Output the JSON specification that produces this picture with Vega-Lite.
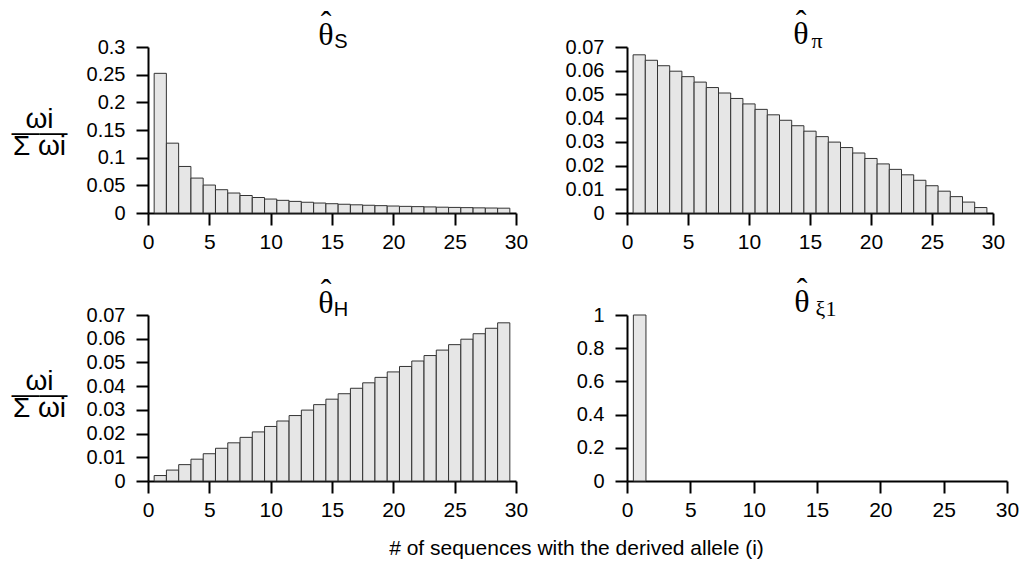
{
  "$schema": "https://vega.github.io/schema/vega-lite/v6.json",
  "background": "white",
  "padding": {"left": 11, "top": 6, "right": 5, "bottom": 5},
  "bounds": "flush",
  "columns": 2,
  "spacing": {"row": 102, "column": 111},
  "config": {
    "view": {"stroke": null},
    "axis": {"domainColor": "black", "domainWidth": 2, "tickColor": "black", "tickWidth": 2, "tickSize": 12, "labelFont": "Liberation Sans", "labelColor": "black", "labelFontSize": 20, "grid": false, "zindex": 1, "labelPadding": 11, "labelFlush": false, "labelOverlap": false},
    "axisX": {"labelFontSize": 21, "labelPadding": 6},
    "title": {"font": "Liberation Serif", "fontSize": 32, "fontWeight": "normal", "color": "black", "lineHeight": 12, "subtitleFont": "Liberation Sans", "subtitleFontSize": 20, "subtitleColor": "black", "subtitlePadding": -20, "anchor": "middle", "frame": "group", "offset": -16}
  },
  "datasets": {
    "S": [
      {"i": 1, "w": 0.2524}, {"i": 2, "w": 0.1262}, {"i": 3, "w": 0.0841}, {"i": 4, "w": 0.0631}, {"i": 5, "w": 0.0505},
      {"i": 6, "w": 0.0421}, {"i": 7, "w": 0.0361}, {"i": 8, "w": 0.0316}, {"i": 9, "w": 0.0280}, {"i": 10, "w": 0.0252},
      {"i": 11, "w": 0.0229}, {"i": 12, "w": 0.0210}, {"i": 13, "w": 0.0194}, {"i": 14, "w": 0.0180}, {"i": 15, "w": 0.0168},
      {"i": 16, "w": 0.0158}, {"i": 17, "w": 0.0148}, {"i": 18, "w": 0.0140}, {"i": 19, "w": 0.0133}, {"i": 20, "w": 0.0126},
      {"i": 21, "w": 0.0120}, {"i": 22, "w": 0.0115}, {"i": 23, "w": 0.0110}, {"i": 24, "w": 0.0105}, {"i": 25, "w": 0.0101},
      {"i": 26, "w": 0.0097}, {"i": 27, "w": 0.0093}, {"i": 28, "w": 0.0090}, {"i": 29, "w": 0.0087}
    ],
    "PI": [
      {"i": 1, "w": 0.0667}, {"i": 2, "w": 0.0644}, {"i": 3, "w": 0.0621}, {"i": 4, "w": 0.0598}, {"i": 5, "w": 0.0575},
      {"i": 6, "w": 0.0552}, {"i": 7, "w": 0.0529}, {"i": 8, "w": 0.0506}, {"i": 9, "w": 0.0483}, {"i": 10, "w": 0.0460},
      {"i": 11, "w": 0.0437}, {"i": 12, "w": 0.0414}, {"i": 13, "w": 0.0391}, {"i": 14, "w": 0.0368}, {"i": 15, "w": 0.0345},
      {"i": 16, "w": 0.0322}, {"i": 17, "w": 0.0299}, {"i": 18, "w": 0.0276}, {"i": 19, "w": 0.0253}, {"i": 20, "w": 0.0230},
      {"i": 21, "w": 0.0207}, {"i": 22, "w": 0.0184}, {"i": 23, "w": 0.0161}, {"i": 24, "w": 0.0138}, {"i": 25, "w": 0.0115},
      {"i": 26, "w": 0.0092}, {"i": 27, "w": 0.0069}, {"i": 28, "w": 0.0046}, {"i": 29, "w": 0.0023}
    ],
    "H": [
      {"i": 1, "w": 0.0023}, {"i": 2, "w": 0.0046}, {"i": 3, "w": 0.0069}, {"i": 4, "w": 0.0092}, {"i": 5, "w": 0.0115},
      {"i": 6, "w": 0.0138}, {"i": 7, "w": 0.0161}, {"i": 8, "w": 0.0184}, {"i": 9, "w": 0.0207}, {"i": 10, "w": 0.0230},
      {"i": 11, "w": 0.0253}, {"i": 12, "w": 0.0276}, {"i": 13, "w": 0.0299}, {"i": 14, "w": 0.0322}, {"i": 15, "w": 0.0345},
      {"i": 16, "w": 0.0368}, {"i": 17, "w": 0.0391}, {"i": 18, "w": 0.0414}, {"i": 19, "w": 0.0437}, {"i": 20, "w": 0.0460},
      {"i": 21, "w": 0.0483}, {"i": 22, "w": 0.0506}, {"i": 23, "w": 0.0529}, {"i": 24, "w": 0.0552}, {"i": 25, "w": 0.0575},
      {"i": 26, "w": 0.0598}, {"i": 27, "w": 0.0621}, {"i": 28, "w": 0.0644}, {"i": 29, "w": 0.0667}
    ],
    "XI": [
      {"i": 1, "w": 1}
    ]
  },
  "concat": [
    {
      "width": 368, "height": 166,
      "data": {"name": "S"},
      "title": {"text": ["ˆ", "θ"], "subtitle": "\u2800\u2800S", "dx": -6},
      "mark": {"type": "bar", "width": 12.2, "fill": "#e6e6e6", "stroke": "#333333", "strokeWidth": 1},
      "encoding": {
        "x": {"field": "i", "type": "quantitative", "scale": {"domain": [0, 30], "nice": false, "zero": false, "padding": 0}, "axis": {"values": [0, 5, 10, 15, 20, 25, 30], "title": null}},
        "y": {"field": "w", "type": "quantitative", "scale": {"domain": [0, 0.3], "nice": false},
          "axis": {"values": [0, 0.05, 0.1, 0.15, 0.2, 0.25, 0.3], "format": ".2~f",
            "title": ["ωi", "——", "Σ ωi"], "titleFont": "Liberation Sans", "titleFontSize": 28, "titleFontWeight": "normal", "titleColor": "black",
            "titleAngle": 0, "titleAlign": "center", "titleBaseline": "alphabetic", "titleLineHeight": 13.5, "titleX": -109, "titleY": 80}}
      }
    },
    {
      "width": 366, "height": 166,
      "data": {"name": "PI"},
      "title": {"text": ["ˆ", "θ"], "subtitle": "\u2800\u2800π", "subtitleFont": "Liberation Serif", "subtitleFontSize": 22, "dx": -9},
      "mark": {"type": "bar", "width": 12.2, "fill": "#e6e6e6", "stroke": "#333333", "strokeWidth": 1},
      "encoding": {
        "x": {"field": "i", "type": "quantitative", "scale": {"domain": [0, 30], "nice": false, "zero": false, "padding": 0}, "axis": {"values": [0, 5, 10, 15, 20, 25, 30], "title": null}},
        "y": {"field": "w", "type": "quantitative", "scale": {"domain": [0, 0.07], "nice": false},
          "axis": {"values": [0, 0.01, 0.02, 0.03, 0.04, 0.05, 0.06, 0.07], "format": ".2~f", "title": null}}
      }
    },
    {
      "width": 368, "height": 166,
      "data": {"name": "H"},
      "title": {"text": ["ˆ", "θ"], "subtitle": "\u2800\u2800H", "dx": -6},
      "mark": {"type": "bar", "width": 12.2, "fill": "#e6e6e6", "stroke": "#333333", "strokeWidth": 1},
      "encoding": {
        "x": {"field": "i", "type": "quantitative", "scale": {"domain": [0, 30], "nice": false, "zero": false, "padding": 0},
          "axis": {"values": [0, 5, 10, 15, 20, 25, 30], "title": "# of sequences with the derived allele (i)", "titleFont": "Liberation Sans", "titleFontSize": 21, "titleFontWeight": "normal", "titleColor": "black", "titleAlign": "center", "titleBaseline": "middle", "titleX": 428, "titleY": 67}},
        "y": {"field": "w", "type": "quantitative", "scale": {"domain": [0, 0.07], "nice": false},
          "axis": {"values": [0, 0.01, 0.02, 0.03, 0.04, 0.05, 0.06, 0.07], "format": ".2~f",
            "title": ["ωi", "——", "Σ ωi"], "titleFont": "Liberation Sans", "titleFontSize": 28, "titleFontWeight": "normal", "titleColor": "black",
            "titleAngle": 0, "titleAlign": "center", "titleBaseline": "alphabetic", "titleLineHeight": 13.5, "titleX": -109, "titleY": 74}}
      }
    },
    {
      "width": 380, "height": 166,
      "data": {"name": "XI"},
      "title": {"text": ["ˆ", "θ"], "subtitle": "\u2800\u2800\u2800ξ1", "subtitleFont": "Liberation Serif", "subtitleFontSize": 22, "dx": -15},
      "mark": {"type": "bar", "width": 12.6, "fill": "#e6e6e6", "stroke": "#333333", "strokeWidth": 1},
      "encoding": {
        "x": {"field": "i", "type": "quantitative", "scale": {"domain": [0, 30], "nice": false, "zero": false, "padding": 0}, "axis": {"values": [0, 5, 10, 15, 20, 25, 30], "title": null}},
        "y": {"field": "w", "type": "quantitative", "scale": {"domain": [0, 1], "nice": false},
          "axis": {"values": [0, 0.2, 0.4, 0.6, 0.8, 1], "format": ".1~f", "title": null}}
      }
    }
  ]
}
